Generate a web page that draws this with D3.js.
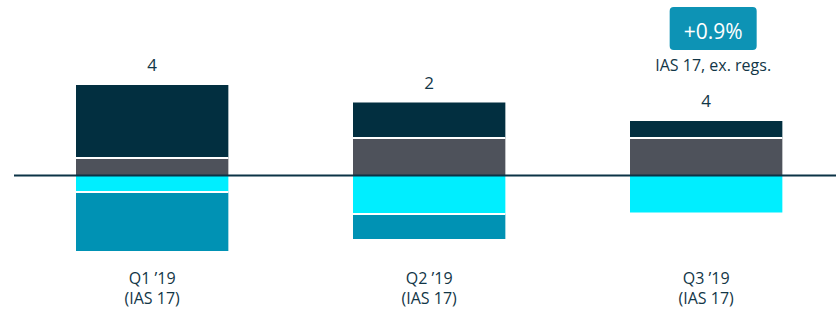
<!DOCTYPE html>
<html>
<head>
<meta charset="utf-8">
<script src="https://cdn.jsdelivr.net/npm/d3@7"></script>
<style>
  html, body { margin: 0; padding: 0; background: #fff; }
  svg { display: block; font-family: "Open Sans", "Noto Sans", sans-serif; }
</style>
</head>
<body>
<svg id="chart" width="836" height="313"></svg>
<script>
'use strict';

// ── Data ──────────────────────────────────────────────────────────────────
const categories = ['Q1 ’19', 'Q2 ’19', 'Q3 ’19'];
const subLabels  = ['(IAS 17)', '(IAS 17)', '(IAS 17)'];
const netLabels  = ['4', '2', '4'];

// stacked from the baseline outwards
const seriesKeys = ['gray', 'navy', 'cyan', 'teal'];
const gray = [3.5, 7.5, 7.5];
const navy = [14.6, 7.1, 3.4];
const cyan = [-3.3, -7.7, -7.4];
const teal = [-11.8, -5.0, 0];

const badgeText = '+0.9%';
const badgeNote = 'IAS 17, ex. regs.';

const COLORS = { navy: '#022f40', gray: '#4e525b', cyan: '#00eeff', teal: '#0092b4' };
const TEXT = '#123647';

// ── Setup ────────────────────────────────────────────────────────────────
const svg = d3.select('#chart');
const width = 836;

const rows = categories.map((c, i) => ({
  cat: c, gray: gray[i], navy: navy[i], cyan: cyan[i], teal: teal[i]
}));
const stacked = d3.stack().keys(seriesKeys).offset(d3.stackOffsetDiverging)(rows);

const x = d3.scaleBand()
  .domain(categories)
  .range([6.75, 851.6])
  .paddingInner(0.45)
  .paddingOuter(0.25);

const y = d3.scaleLinear().domain([-20, 20]).range([275.5, 75.5]);

// ── Bars ─────────────────────────────────────────────────────────────────
svg.append('g').selectAll('g')
  .data(stacked).join('g')
  .attr('fill', s => COLORS[s.key])
  .selectAll('rect')
  .data(s => s.map((d, i) => ({ d, cat: categories[i] })))
  .join('rect')
  .attr('x', p => x(p.cat))
  .attr('width', x.bandwidth())
  .attr('y', p => y(Math.max(p.d[0], p.d[1])))
  .attr('height', p => Math.abs(y(p.d[0]) - y(p.d[1])));

// white gaps between stacked segments
const gaps = [];
categories.forEach((c, i) => {
  if (gray[i] && navy[i]) gaps.push({ cat: c, v: gray[i] });
  if (cyan[i] && teal[i]) gaps.push({ cat: c, v: cyan[i] });
});
svg.append('g').selectAll('line')
  .data(gaps).join('line')
  .attr('x1', d => x(d.cat)).attr('x2', d => x(d.cat) + x.bandwidth())
  .attr('y1', d => y(d.v)).attr('y2', d => y(d.v))
  .attr('stroke', '#fff').attr('stroke-width', 2);

// ── Baseline ─────────────────────────────────────────────────────────────
svg.append('line')
  .attr('x1', 14).attr('x2', width)
  .attr('y1', y(0)).attr('y2', y(0))
  .attr('stroke', '#0b3346').attr('stroke-width', 2);

// ── Net labels ───────────────────────────────────────────────────────────
svg.append('g').selectAll('text')
  .data(categories).join('text')
  .attr('x', c => x(c) + x.bandwidth() / 2)
  .attr('y', (c, i) => y(gray[i] + navy[i]) - 14)
  .attr('text-anchor', 'middle')
  .attr('font-size', 17)
  .attr('fill', TEXT)
  .text((c, i) => netLabels[i]);

// ── Category labels ──────────────────────────────────────────────────────
const catG = svg.append('g').selectAll('text')
  .data(categories).join('text')
  .attr('text-anchor', 'middle')
  .attr('font-size', 16)
  .attr('fill', TEXT);
catG.append('tspan').attr('x', c => x(c) + x.bandwidth() / 2).attr('y', 284).text(c => c);
catG.append('tspan').attr('x', c => x(c) + x.bandwidth() / 2).attr('y', 304).text((c, i) => subLabels[i]);

// ── Badge on last bar ────────────────────────────────────────────────────
const last = categories[categories.length - 1];
const bx = x(last) + x.bandwidth() / 2 + 7;
const badge = svg.append('g');
badge.append('rect')
  .attr('x', bx - 43.5).attr('y', 7)
  .attr('width', 87).attr('height', 43)
  .attr('rx', 4)
  .attr('fill', '#0d93b5');
badge.append('text')
  .attr('x', bx).attr('y', 39)
  .attr('text-anchor', 'middle')
  .attr('font-size', 21)
  .attr('fill', '#fff')
  .text(badgeText);
badge.append('text')
  .attr('x', bx).attr('y', 71)
  .attr('text-anchor', 'middle')
  .attr('font-size', 16)
  .attr('fill', TEXT)
  .text(badgeNote);
</script>
</body>
</html>
